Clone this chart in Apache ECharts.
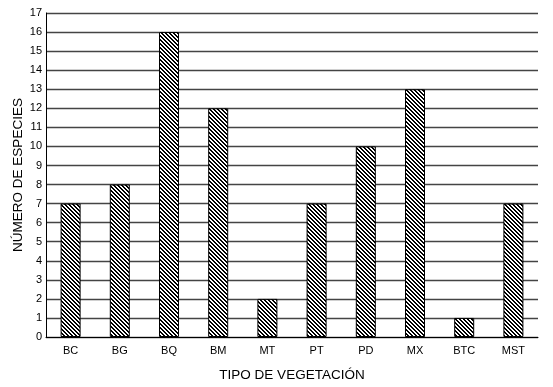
<!DOCTYPE html>
<html><head><meta charset="utf-8">
<script src="https://cdn.jsdelivr.net/npm/echarts@6/dist/echarts.min.js"></script>
<style>html,body{margin:0;padding:0;background:#fff}#c{width:553px;height:387px}</style>
</head><body><div id="c"></div>
<script>
var categories = ['BC','BG','BQ','BM','MT','PT','PD','MX','BTC','MST'];
var values = [7, 8, 16, 12, 2, 7, 10, 13, 1, 7];
var yTicks = {min: 0, max: 17, interval: 1};

var pc = document.createElement('canvas');
pc.width = 4; pc.height = 4;
var ctx = pc.getContext('2d');
ctx.fillStyle = '#fff'; ctx.fillRect(0,0,4,4);
ctx.fillStyle = '#000';
for (var y = 0; y < 4; y++) for (var x = 0; x < 4; x++) {
  var d = ((x - y) % 4 + 4) % 4;
  if (d === 0 || d === 1) ctx.fillRect(x, y, 1, 1);
}

var chart = echarts.init(document.getElementById('c'), null, {renderer: 'canvas'});
chart.setOption({
  animation: false,
  backgroundColor: '#fff',
  grid: {left: 46, right: 15, top: 13, bottom: 47},
  xAxis: {
    type: 'category', data: categories,
    name: 'TIPO DE VEGETACIÓN', nameLocation: 'middle', nameGap: 31,
    nameTextStyle: {fontFamily: 'Liberation Sans', fontSize: 13.5, color: '#000'},
    axisLine: {lineStyle: {color: '#000', width: 1}},
    axisTick: {show: false},
    axisLabel: {fontFamily: 'Liberation Sans', fontSize: 11, color: '#000', margin: 8}
  },
  yAxis: {
    type: 'value', min: yTicks.min, max: yTicks.max, interval: yTicks.interval,
    name: 'NÚMERO DE ESPECIES', nameLocation: 'middle', nameGap: 21, nameMoveOverlap: false,
    nameTextStyle: {fontFamily: 'Liberation Sans', fontSize: 13.5, color: '#000'},
    axisLine: {show: true, lineStyle: {color: '#000', width: 1}},
    axisTick: {show: false},
    axisLabel: {fontFamily: 'Liberation Sans', fontSize: 11, color: '#000', margin: 4},
    splitLine: {lineStyle: {color: '#444', width: 1.3}}
  },
  series: [{
    type: 'bar', data: values, barWidth: 20,
    itemStyle: {color: {image: pc, repeat: 'repeat'}, borderColor: '#000', borderWidth: 1}
  }]
});
</script></body></html>
